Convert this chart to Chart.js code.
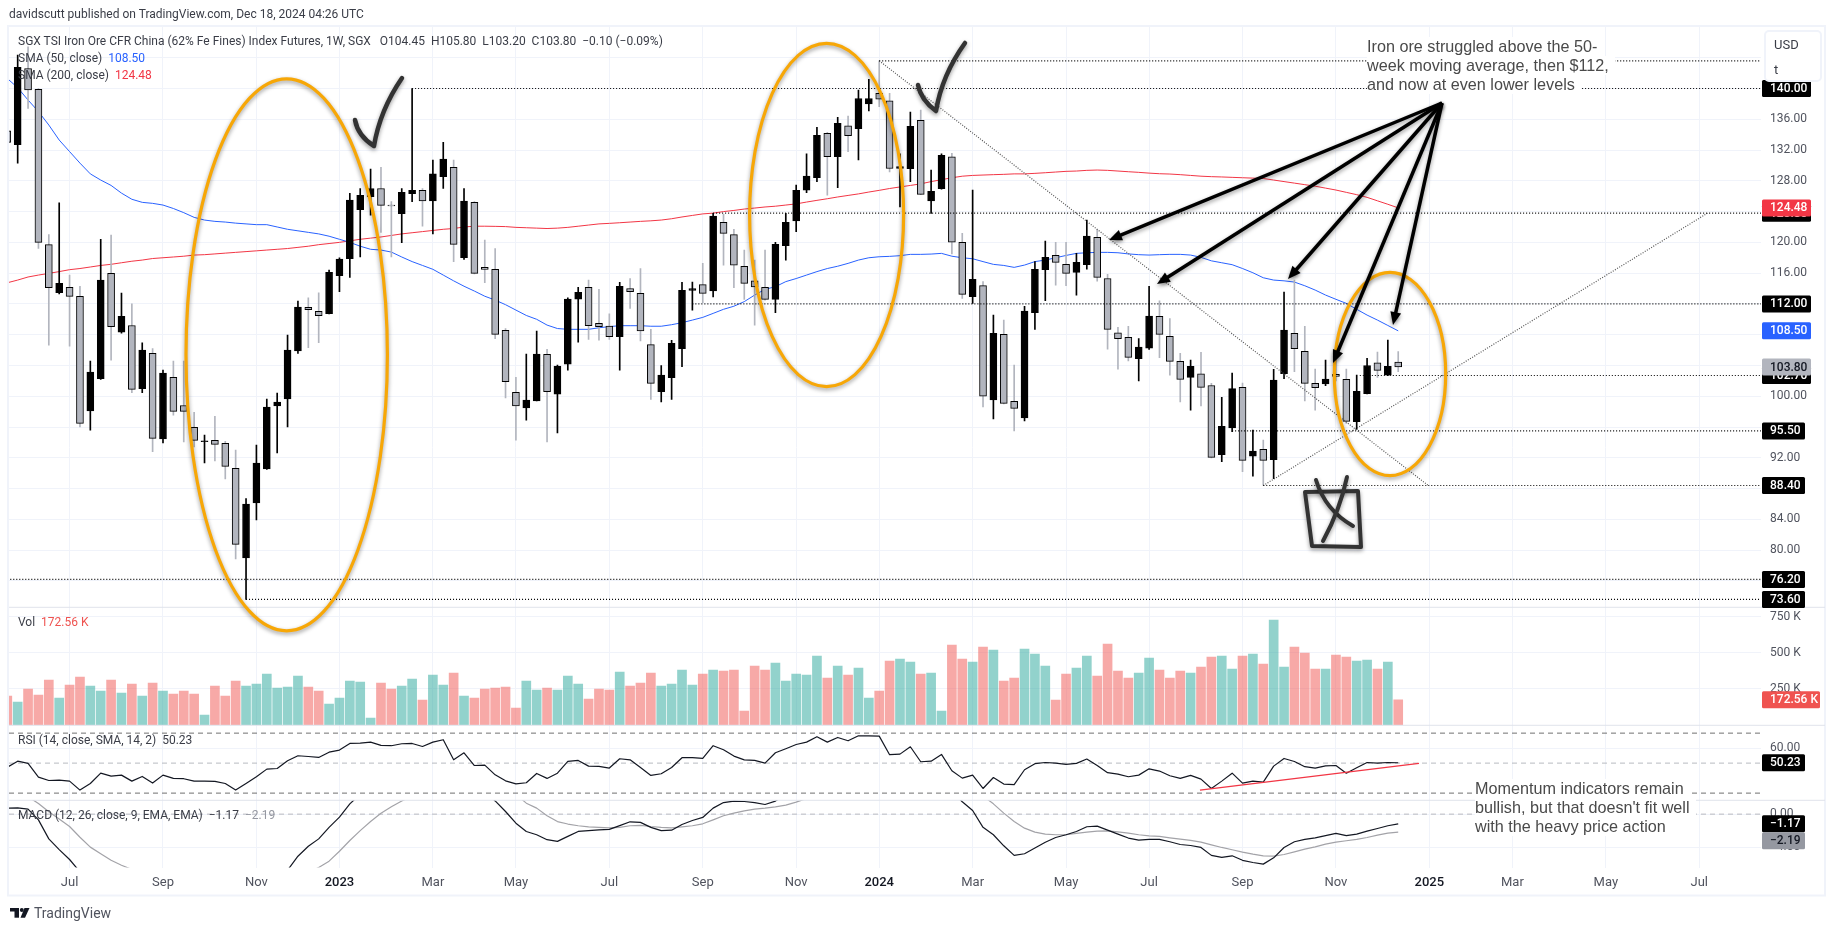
<!DOCTYPE html>
<html>
<head>
<meta charset="utf-8">
<title>SGX Iron Ore weekly</title>
<script src="https://cdn.jsdelivr.net/npm/chart.js@4/dist/chart.umd.min.js"></script>
<style>
  html, body { margin: 0; padding: 0; background: #fff; overflow: hidden; }
  #wrap { position: relative; width: 1835px; height: 931px; }
  canvas { position: absolute; left: 0; top: 0; }
  .t { position: absolute; white-space: pre; font: 12px Roboto, sans-serif; color: #3a3d47; line-height: 15px; }
  .blue { color: #2962ff; }
  .red { color: #f23645; }
  .coral { color: #ef5350; }
  .grey { color: #9598a1; }
  .note { position: absolute; font: 16.2px "Liberation Sans", sans-serif; color: #4a4a4a; }
  .note span { display: block; width: fit-content; background: #fff; height: 19px; line-height: 19px; padding-right: 6px; white-space: pre; }
</style>
</head>
<body>
<div id="wrap">
  <canvas id="chart" width="1835" height="931"></canvas>

  <div class="t" style="left:9px;top:7px;">davidscutt published on TradingView.com, Dec 18, 2024 04:26 UTC</div>
  <div class="t" style="left:18px;top:34px;">SGX TSI Iron Ore CFR China (62% Fe Fines) Index Futures, 1W, SGX   O104.45  H105.80  L103.20  C103.80  −0.10 (−0.09%)</div>
  <div class="t" style="left:18px;top:51px;">SMA (50, close)  <span class="blue">108.50</span></div>
  <div class="t" style="left:18px;top:68px;">SMA (200, close)  <span class="red">124.48</span></div>
  <div class="t" style="left:18px;top:615px;">Vol  <span class="coral">172.56 K</span></div>
  <div class="t" style="left:18px;top:733px;">RSI (14, close, SMA, 14, 2)  50.23</div>
  <div class="t" style="left:18px;top:808px;">MACD (12, 26, close, 9, EMA, EMA)  −1.17  <span class="grey">−2.19</span></div>
  <div class="t" style="left:1774px;top:37px;font-size:13px;">USD</div>
  <div class="t" style="left:1774px;top:62px;font-size:13px;">t</div>
  <div class="t" style="left:34px;top:905px;font-size:14px;line-height:17px;color:#50535e;">TradingView</div>

  <div class="note" style="left:1367px;top:37px;">
    <span>Iron ore struggled above the 50-</span>
    <span>week moving average, then $112,</span>
    <span>and now at even lower levels</span>
  </div>
  <div class="note" style="left:1475px;top:779px;">
    <span>Momentum indicators remain</span>
    <span>bullish, but that doesn't fit well</span>
    <span>with the heavy price action</span>
  </div>
</div>

<script>
// weekly bars, index 0 = 23 May 2022, index 134 = 16 Dec 2024
const opens = [
  134.5,132.7,142.6,139.9,119.7,113.45,114.15,112.98,98.1,102.27,
  115.97,108.34,109.2,101,105.57,94.47,102.45,98.8,95.95,94.1,
  94.26,93.87,90.62,79,86.15,90.57,98.76,99.67,105.9,111.55,
  111.03,110.72,115.67,117.87,124.25,125.93,127,124.85,123.72,126.32,
  126.76,125.4,128.53,129.75,118,125.2,116.75,116.5,108.56,100.5,
  98.5,99.4,105.44,100.28,104.18,112.63,114.15,109.47,109.12,107.74,
  114,113.37,106.7,100.58,102.4,106.17,113.76,114.5,113.7,122.6,
  121,116.88,115,114.15,112.6,119.57,122.8,126.8,128.4,134.17,
  131.13,135.16,134.77,138,139.37,138.4,129.6,129.57,135.86,125.4,
  126.97,131.13,120,112.93,114.37,99.54,108.04,99.33,97.2,110.85,
  116.44,118.3,117.14,116.1,117.09,120.65,115.3,108.25,107.65,104.87,
  106.26,110.38,107.78,104.53,102.45,102.92,101.4,92.4,95.9,101.15,
  92.2,93.1,91.75,102.92,108.17,105.83,101.67,101.6,102.84,102.2,
  96.69,100.32,104.35,102.75,104.45];
const highs = [
  135,144.35,145.4,140,121,125.15,115.75,114.3,104.57,120.4,
  120.95,113.4,112,106.95,106.2,103.4,104.57,104.57,97.9,94.95,
  97.38,94.13,93,86.7,93.65,99.63,100.41,107.95,112.37,112.8,
  113.45,116.4,118,126.37,127,129.53,129.75,125.3,127,140,
  127,130.7,133,130.7,127,125.3,120.3,119.2,108.8,102.45,
  105.48,108.47,106.1,104.05,112.8,114.15,115.1,113.9,110.7,114.8,
  115.3,116.6,108.7,104,107.26,114.8,114.84,117.27,123.77,123.64,
  121.7,119,117.7,119,120,123.77,127.45,131.5,134.95,134.3,
  136.25,136.4,139.8,141.2,143.6,139.37,131.5,136.94,137.2,129.4,
  131.5,131.57,121.17,126.8,114.9,110.55,109.9,104.05,111.7,117.5,
  120.17,120,120,118.57,122.9,121.7,115.84,108.95,109.1,107.5,
  114.3,112.4,110.1,105.57,104.7,105.7,101.67,99.85,103,101.7,
  95.6,94.3,103.5,113.54,115.1,109.1,103.53,104.7,105,103.53,
  102.75,104.92,105.74,107.3,105.8];
const lows = [
  132.6,130.3,137.4,119.2,106.65,113.3,106.5,96.03,95.6,102.2,
  104.7,108.2,100.45,100.45,92.8,93.95,97.55,94.08,93.43,91.35,
  91.6,89.27,78.87,73.6,83.94,90.5,92.65,96.03,105.57,106.3,
  106.95,110.7,113.6,115.45,118.1,123.55,121.3,118.1,119.95,125.3,
  122.1,121.1,127,117.5,117.8,115.9,114.75,107.5,99.8,94.3,
  96.9,99.4,94.08,95.25,103.4,107.04,107.4,107.3,107.4,103.4,
  111.4,107.2,99.6,99.28,99.6,103.83,111.2,112.15,112.9,117.05,
  114.1,112.6,109.25,112.5,110.85,117.7,121.4,126.45,127.9,126.15,
  127.1,131.8,130.7,137.07,137.63,129.14,124.6,127.9,126.2,123.77,
  126.9,118.5,112.7,112.07,98.63,97.07,99,95.5,96.8,108.7,
  112.41,114.45,114.36,113.15,116.53,114.97,106.13,103.53,104.6,102,
  106.1,105,102.75,99.28,98.2,98.76,92,91.5,95.4,90.2,
  89.6,88.45,89.3,102.3,103.2,99.4,98.2,101.36,102,96.47,
  95.69,100.3,102.45,102.66,103.2];
const closes = [
  133,142.75,139.8,120,114.1,114.67,112.98,96.47,103.14,115.1,
  109.03,110.4,100.9,106,94.52,103,98.03,98.03,94.26,94.2,
  93.74,90.88,80.74,85.98,91.3,98.6,99.24,106,111.6,111.24,
  110.46,116.1,117.83,125.5,126.1,127,124.8,124.75,126.5,126.76,
  125.4,128.9,130.83,119.74,125.37,115.97,116.5,108.04,101.88,98.76,
  99.5,105.48,100.58,103.92,112.63,113.5,109.16,109.03,107.74,114.3,
  113.6,108.5,101.67,102.75,106.87,113.76,114,113.37,123.42,121.17,
  117.05,114.67,114.2,112.6,119.74,122.6,126.76,128.6,133.9,131.13,
  135.47,133.86,138.7,138.7,138.6,129.6,129.85,135.07,126.24,126.63,
  131.3,120.04,113.24,115.2,100,108.17,99.07,98.42,111.07,116.5,
  118.05,117.4,115.97,117.4,120.82,115.45,108.69,107.5,105.05,106.4,
  110.42,108.04,104.53,102.2,103.88,101.15,92.05,96.08,101,91.66,
  92.87,91.66,102.1,108.6,106.17,101.67,101.1,102.23,102.58,96.73,
  100.63,104,103.36,103.88,103.8];

// volume in thousands
const volumes = [
  198,156,247,205,309,184,274,330,267,233,
  309,219,281,198,288,233,212,233,212,66,
  267,198,302,267,281,351,253,260,337,260,
  233,142,184,302,295,45,288,247,267,316,
  170,344,274,358,198,184,247,253,260,115,
  302,240,253,240,337,281,177,247,240,365,
  267,288,358,267,281,378,274,351,378,372,
  378,94,406,378,427,302,351,344,476,323,
  406,344,392,184,233,441,455,434,351,358,
  94,552,455,434,538,517,302,323,524,490,
  406,170,351,392,476,337,559,372,323,358,
  462,378,323,372,358,399,469,476,385,476,
  490,420,726,399,538,497,385,385,483,469,
  441,448,385,434,172.56];

const sma50 = [
  141.3,140.1,138.5,137,135.25,133.3,131.8,130.3,128.9,128.1,
  127.4,126.4,125.6,125.2,125.07,124.85,124.4,123.86,123.25,122.9,
  122.73,122.64,122.5,122.4,122.3,122.3,122,121.7,121.5,121.3,
  121.1,120.8,120.4,120,119.5,119.1,119,118.74,118.1,117.5,
  117,116.5,115.75,115,114.3,113.67,113,112.5,111.9,111.2,
  110.5,110,109.25,108.8,108.7,108.7,108.7,108.9,109.05,109.17,
  109.17,109.17,109.1,109.1,109.3,109.56,109.9,110.25,110.77,111.3,
  111.7,112.3,113.15,113.9,114.24,114.9,115.3,115.75,116.2,116.6,
  116.9,117.27,117.7,118,118.13,118.18,118.27,118.44,118.44,118.48,
  118.57,118.2,118,117.87,117.5,117.14,117,116.75,117.05,117.5,
  117.7,118,118.3,118.57,118.65,118.7,118.7,118.65,118.5,118.4,
  118.35,118.4,118.44,118.44,118.35,118.05,117.6,117.35,117.1,116.6,
  116.05,115.4,115.1,115,114.84,114.36,113.8,113.15,112.6,112.07,
  111.3,110.55,109.9,109.2,108.5];
const sma200 = [
  114.75,115.1,115.5,115.75,115.97,116.2,116.45,116.6,116.8,117,
  117.15,117.35,117.55,117.7,117.9,118,118.1,118.2,118.35,118.4,
  118.5,118.6,118.7,118.8,118.9,119,119.1,119.2,119.35,119.5,
  119.7,119.85,120,120.2,120.4,120.55,120.7,120.9,121.1,121.25,
  121.4,121.55,121.7,121.8,122,122.1,122.1,122.08,122.05,121.95,
  121.9,121.85,121.8,121.85,121.95,122.1,122.25,122.4,122.47,122.55,
  122.64,122.73,122.8,122.9,123.07,123.3,123.5,123.7,123.8,124,
  124.15,124.33,124.46,124.6,124.7,124.85,125,125.24,125.46,125.67,
  125.9,126.1,126.3,126.54,126.76,127,127.2,127.4,127.6,127.9,
  128.14,128.4,128.6,128.7,128.75,128.8,128.84,128.9,128.9,128.97,
  129.05,129.14,129.23,129.27,129.36,129.4,129.36,129.27,129.18,129.1,
  129,128.92,128.88,128.8,128.7,128.6,128.54,128.5,128.45,128.4,
  128.35,128.3,128.1,127.9,127.7,127.5,127.3,127.05,126.8,126.5,
  126.2,125.85,125.4,124.95,124.48];

const rsi = [
  47.3,51.3,49.8,40.7,38.4,38.7,38,32,36.4,43.3,
  41.3,42,38,41.1,36.7,42,39.8,39.6,38,38,
  37.8,36.4,32,36.4,40.9,46,46.4,51.6,54.9,54.4,
  53.8,57.3,58.7,63.1,63.3,64,61.8,61.6,62.9,63.1,
  61.1,64,65.6,52.2,56.9,48.4,48.7,42.2,38.2,36.2,
  36.9,43.1,39.8,43.3,51.1,51.8,48,47.8,46.7,52.9,
  52.2,47.1,41.8,42.9,47.1,53.6,53.6,53.1,61.6,58.9,
  54.7,52.2,51.8,50,56.9,59.6,62.4,64,67.6,64,
  67.1,64.9,68.2,68.2,68,55.6,56,60.9,50.9,51.3,
  55.8,44.9,40,42,33.1,40.4,36,35.6,45.6,49.6,
  50.4,50,49.1,49.8,52.7,48.4,43.6,42.7,40.9,42,
  46.2,44.7,41.6,39.8,41.8,39.3,33.1,38,43.3,36.7,
  38,37.3,48,53.1,51.1,47.6,46.7,48.2,48.4,43.3,
  46.9,50.4,50,50.4,50.23];

const macdLine = [
  0.73,0.77,0.6,-0.7,-3,-4.3,-5.5,-7,-8,-8.6,
  -8.8,-9,-9.3,-9.2,-9.5,-9.2,-9.2,-9.3,-9.4,-9.5,
  -9.6,-9.8,-10.4,-10.3,-10,-9.2,-8.4,-6.8,-5.1,-3.9,
  -3,-1.6,-0.36,1.25,2.4,3.2,3.7,4,4.2,4.3,
  4.3,4.4,4.5,4.3,4.1,3.6,2.8,1.6,0.32,-1.1,
  -2.1,-2.5,-3.1,-3.3,-2.7,-2.1,-2,-1.9,-1.85,-1.4,
  -0.93,-1,-1.6,-2,-1.95,-1.25,-0.77,-0.4,0.73,1.4,
  1.58,1.53,1.4,1.17,1.58,2.4,3.2,3.9,4.6,5,
  5.4,5.6,5.9,6.1,6.2,5.8,5.4,5.1,4.6,4.2,
  3.9,2.8,1.5,0.44,-1.6,-2.5,-3.84,-5,-4.8,-4.1,
  -3.4,-2.83,-2.5,-2.1,-1.53,-1.45,-1.94,-2.42,-2.9,-3.15,
  -3.07,-3.07,-3.35,-3.68,-3.8,-4.04,-5,-5.25,-5.05,-5.6,
  -5.86,-6.06,-5.3,-4.04,-3.35,-3.07,-2.87,-2.6,-2.34,-2.6,
  -2.42,-2.06,-1.74,-1.41,-1.17];
const macdSignal = [
  3,2.6,2.1,1.3,0.3,-0.6,-1.5,-2.8,-4,-4.8,
  -5.6,-6.2,-6.7,-7.1,-7.5,-7.8,-8,-8.2,-8.3,-8.4,
  -8.5,-8.6,-8.8,-8.9,-8.9,-8.9,-8.8,-8.5,-7.8,-7.1,
  -6.46,-5.7,-4.5,-3.2,-2,-0.9,0.1,0.9,1.6,2.2,
  2.6,3,3.3,3.5,3.6,3.7,3.6,3.3,3,2.4,
  1.33,0.73,-0.2,-0.9,-1.2,-1.41,-1.54,-1.6,-1.66,-1.6,
  -1.41,-1.37,-1.5,-1.6,-1.66,-1.54,-1.41,-1.17,-0.69,-0.2,
  0.12,0.4,0.6,0.73,0.89,1.09,1.45,1.9,2.3,2.7,
  3,3.4,3.7,4,4.3,4.5,4.6,4.7,4.7,4.6,
  4.5,4.3,3.7,2.9,2.2,1.25,0.12,-0.89,-1.7,-2.18,
  -2.42,-2.5,-2.5,-2.34,-2.18,-2.06,-2.02,-2.14,-2.3,-2.5,
  -2.63,-2.7,-2.87,-3.03,-3.19,-3.39,-3.72,-4.04,-4.32,-4.6,
  -4.85,-5.05,-5.09,-4.89,-4.57,-4.24,-3.96,-3.64,-3.39,-3.23,
  -3.07,-2.83,-2.55,-2.3,-2.19];

// x axis
const monthTicks = [6,15,24,32,41,49,58,67,76,84,93,102,110,119,128,137,145,154,163];
const monthLabels = ['Jul','Sep','Nov','2023','Mar','May','Jul','Sep','Nov','2024','Mar','May','Jul','Sep','Nov','2025','Mar','May','Jul'];

// y axes: every tick gets a grid line, only the uncovered ones keep their label
const priceTicks = [144,140,136,132,128,124,120,116,112,108,104,100,96,92,88,84,80,76];
const priceLabelled = [136,132,128,120,116,100,92,84,80];
const volumeTicks = [750,500,250];
const rsiTicks = [60];
const macdTicks = [0,-4];

// horizontal levels and where they start (bar index)
const levelPrices = [143.6,140,123.8,112,102.7,95.5,88.4,76.2,73.6];
const levelStarts = [84,39,68,66,130.3,118,121,0,23];

// trend lines
const fallingLineX = [84,136.9];
const fallingLineY = [143.6,88.4];
const risingLineX = [121,163.8];
const risingLineY = [88.4,123.8];
const rsiTrendX = [114.9,136];
const rsiTrendY = [32,49.8];

// price scale tags, drawn bottom to top
const tagValues = [140,123.8,112,102.7,95.5,88.4,76.2,73.6,124.48,108.5,103.8];
const tagTexts = ['140.00','123.80','112.00','102.70','95.50','88.40','76.20','73.60','124.48','108.50','103.80'];
const tagColors = ['#000','#000','#000','#000','#000','#000','#000','#000','#f23645','#2962ff','#b2b5be'];

const xMin = 0.164, xMax = 168.95;
const paneTops = { vol: 607.3, rsi: 725.3, macd: 800.3 };
const areaTop = 27;

const UP = '#000000', DOWN = '#b2b5be';
const isUp = i => closes[i] >= opens[i];
const isYear = i => (monthLabels[i] || '').length === 4;

function series(values) {
  return values.map((v, i) => ({ x: i, y: v }));
}
function level(i) {
  return {
    type: 'line', yAxisID: 'y', order: 0,
    data: [{ x: levelStarts[i], y: levelPrices[i] }, { x: xMax, y: levelPrices[i] }],
    borderColor: '#000', borderWidth: 1.2, borderDash: [1, 2], pointRadius: 0
  };
}
function trend(xs, ys, yAxisID, color, dash, width) {
  return {
    type: 'line', yAxisID, order: 0,
    data: xs.map((x, i) => ({ x, y: ys[i] })),
    borderColor: color, borderWidth: width, borderDash: dash, pointRadius: 0
  };
}
function flat(value, yAxisID, color) {
  return {
    type: 'line', yAxisID, order: 5,
    data: [{ x: xMin, y: value }, { x: xMax, y: value }],
    borderColor: color, borderWidth: 1, borderDash: [5, 4], pointRadius: 0
  };
}
function indicator(values, yAxisID, color, width) {
  return {
    type: 'line', yAxisID, order: 3,
    data: series(values),
    borderColor: color, borderWidth: width, pointRadius: 0, tension: 0
  };
}

const datasets = [
  ...levelPrices.map((p, i) => level(i)),
  trend(fallingLineX, fallingLineY, 'y', '#555', [1, 1.5], 1.2),
  trend(risingLineX, risingLineY, 'y', '#555', [1, 1.5], 1.2),
  trend(rsiTrendX, rsiTrendY, 'yRsi', '#f23645', [], 1.3),
  {
    // candle bodies
    type: 'bar', yAxisID: 'y', order: 1, grouped: false,
    data: opens.map((o, i) => ({ x: i, y: [o, closes[i]] })),
    backgroundColor: opens.map((o, i) => isUp(i) ? UP : DOWN),
    borderColor: '#000', borderWidth: 1, borderSkipped: false, barThickness: 7
  },
  {
    // candle wicks
    type: 'bar', yAxisID: 'y', order: 2, grouped: false,
    data: lows.map((l, i) => ({ x: i, y: [l, highs[i]] })),
    backgroundColor: opens.map((o, i) => isUp(i) ? UP : DOWN),
    borderWidth: 0, barThickness: 1
  },
  indicator(sma50, 'y', '#2962ff', 1),
  indicator(sma200, 'y', '#f23645', 1),
  {
    type: 'bar', yAxisID: 'yVol', order: 4, grouped: false,
    data: series(volumes),
    backgroundColor: opens.map((o, i) => isUp(i) ? 'rgba(38,166,154,0.5)' : 'rgba(239,83,80,0.5)'),
    borderWidth: 0, barThickness: 9
  },
  flat(70, 'yRsi', '#707070'),
  flat(50, 'yRsi', '#b8bac0'),
  flat(30, 'yRsi', '#707070'),
  indicator(rsi, 'yRsi', '#131722', 1.2),
  flat(0, 'yMacd', '#b8bac0'),
  indicator(macdLine, 'yMacd', '#131722', 1.2),
  indicator(macdSignal, 'yMacd', '#a3a3a8', 1.2)
];

function yAxis(min, max, weight, ticks, label) {
  return {
    type: 'linear', position: 'right', stack: 'panes', stackWeight: weight,
    min, max,
    afterBuildTicks: axis => { axis.ticks = ticks.map(v => ({ value: v })); },
    afterFit: axis => { axis.width = 64; },
    border: { display: false },
    grid: { color: '#f0f3fa', lineWidth: 1, drawTicks: false },
    ticks: {
      autoSkip: false, padding: 9, crossAlign: 'near',
      color: '#50535e', font: { size: 12 },
      callback: label
    }
  };
}

// everything a person scribbled on top of the screenshot, in page pixels
const marker = {
  id: 'marker',
  afterDraw(chart) {
    const c = chart.ctx;
    c.save();

    // frame and pane separators
    c.strokeStyle = '#f0f3fa';
    c.lineWidth = 2;
    c.strokeRect(8, 26, 1817, 869.5);
    c.strokeStyle = '#e0e3eb';
    c.lineWidth = 1;
    [paneTops.vol, paneTops.rsi, paneTops.macd].forEach(y => {
      c.beginPath(); c.moveTo(9, y); c.lineTo(1825, y); c.stroke();
    });

    // tags on the axes
    c.font = '500 12px Roboto';
    c.textBaseline = 'middle';
    const tag = (y, text, fill, color, w) => {
      c.fillStyle = fill;
      c.beginPath();
      c.roundRect(1762, y - 8.5, w, 17, 1.5);
      c.fill();
      c.fillStyle = color;
      c.textAlign = 'left';
      c.fillText(text, 1770, y + 0.5);
    };
    tagValues.forEach((v, i) => {
      const dark = tagColors[i] === '#b2b5be';
      tag(chart.scales.y.getPixelForValue(v), tagTexts[i], tagColors[i], dark ? '#131722' : '#fff', tagTexts[i].length > 5 ? 49 : 43);
    });
    tag(chart.scales.yVol.getPixelForValue(volumes[134]), '172.56 K', '#ef5350', '#fff', 58);
    tag(chart.scales.yRsi.getPixelForValue(rsi[134]), '50.23', '#000', '#fff', 43);
    tag(chart.scales.yMacd.getPixelForValue(macdLine[134]), '−1.17', '#000', '#fff', 43);
    tag(chart.scales.yMacd.getPixelForValue(macdLine[134]) + 17, '−2.19', '#9598a1', '#131722', 43);

    // USD box
    c.fillStyle = '#fff';
    c.strokeStyle = '#f0f3fa';
    c.lineWidth = 2;
    c.beginPath();
    c.roundRect(1765, 31, 56, 50, 4);
    c.fill();
    c.stroke();

    // orange ellipses
    c.shadowColor = 'rgba(0,0,0,0.4)';
    c.shadowBlur = 4;
    c.shadowOffsetY = 2;
    c.strokeStyle = '#f7a707';
    c.lineWidth = 3.2;
    [[286.7, 354.8, 100.7, 276], [826.6, 215, 77, 171.7], [1390, 374, 55.7, 101.7]].forEach(e => {
      c.beginPath();
      c.ellipse(e[0], e[1], e[2], e[3], 0, 0, Math.PI * 2);
      c.stroke();
    });

    // arrows
    c.strokeStyle = '#000';
    c.fillStyle = '#000';
    c.lineWidth = 3.5;
    [[1109, 240], [1157, 284], [1288, 279], [1333, 363], [1393, 325]].forEach(t => {
      const a = Math.atan2(t[1] - 103, t[0] - 1442);
      c.beginPath();
      c.moveTo(1442, 103);
      c.lineTo(t[0] - 6 * Math.cos(a), t[1] - 6 * Math.sin(a));
      c.stroke();
      c.beginPath();
      c.moveTo(t[0], t[1]);
      c.lineTo(t[0] - 14 * Math.cos(a - 0.4), t[1] - 14 * Math.sin(a - 0.4));
      c.lineTo(t[0] - 14 * Math.cos(a + 0.4), t[1] - 14 * Math.sin(a + 0.4));
      c.closePath();
      c.fill();
    });

    // ticks and the crossed box
    c.strokeStyle = '#333';
    c.lineWidth = 4.5;
    c.lineCap = 'round';
    c.lineJoin = 'round';
    c.beginPath();
    c.moveTo(355, 120);
    c.quadraticCurveTo(358, 136, 374, 146);
    c.quadraticCurveTo(380, 110, 402, 78);
    c.stroke();
    c.beginPath();
    c.moveTo(918, 85);
    c.quadraticCurveTo(921, 100, 936, 111);
    c.quadraticCurveTo(942, 75, 965, 43);
    c.stroke();
    c.lineWidth = 4;
    c.beginPath();
    c.moveTo(1305, 492);
    c.lineTo(1358, 491);
    c.lineTo(1361, 547);
    c.lineTo(1312, 546);
    c.closePath();
    c.stroke();
    c.beginPath();
    c.moveTo(1316, 480);
    c.quadraticCurveTo(1325, 510, 1353, 526);
    c.stroke();
    c.beginPath();
    c.moveTo(1347, 477);
    c.quadraticCurveTo(1340, 510, 1323, 541);
    c.stroke();

    // TradingView logo
    c.shadowColor = 'transparent';
    c.fillStyle = '#131722';
    c.fillRect(10, 908, 9, 3.5);
    c.fillRect(14.5, 908, 4.5, 9.7);
    c.beginPath();
    c.arc(21.8, 910, 2, 0, Math.PI * 2);
    c.fill();
    c.beginPath();
    c.moveTo(24.5, 908);
    c.lineTo(29.5, 908);
    c.lineTo(25, 917.7);
    c.lineTo(20.5, 917.7);
    c.closePath();
    c.fill();

    c.restore();
  }
};

Chart.defaults.font.family = 'Roboto, sans-serif';

new Chart(document.getElementById('chart'), {
  type: 'bar',
  data: { datasets },
  plugins: [marker],
  options: {
    responsive: false,
    animation: false,
    events: [],
    layout: { padding: { left: 9, top: areaTop, right: 10, bottom: 36 } },
    plugins: { legend: { display: false }, tooltip: { enabled: false } },
    elements: { line: { borderJoinStyle: 'round' } },
    scales: {
      x: {
        type: 'linear', min: xMin, max: xMax, offset: false,
        afterBuildTicks: axis => { axis.ticks = monthTicks.map(v => ({ value: v })); },
        afterFit: axis => { axis.height = 27.5; },
        border: { display: false },
        grid: { color: '#f0f3fa', lineWidth: 1, drawTicks: false, offset: false },
        ticks: {
          autoSkip: false, maxRotation: 0, padding: 7,
          color: ctx => isYear(ctx.index) ? '#131722' : '#50535e',
          font: ctx => ({ size: 13, weight: isYear(ctx.index) ? '500' : '400' }),
          callback: (v, i) => monthLabels[i]
        }
      },
      y: yAxis(72.59, 147.99, 580.3, priceTicks, v => priceLabelled.includes(v) ? v.toFixed(2) : ''),
      yVol: yAxis(-4, 816, 118, volumeTicks, v => v + ' K'),
      yRsi: yAxis(25.33, 75.33, 75, rsiTicks, v => v.toFixed(2)),
      yMacd: yAxis(-6.47, 1.7, 67.4, macdTicks, v => v === 0 ? '0.00' : '−4.00')
    }
  }
});
</script>
</body>
</html>
